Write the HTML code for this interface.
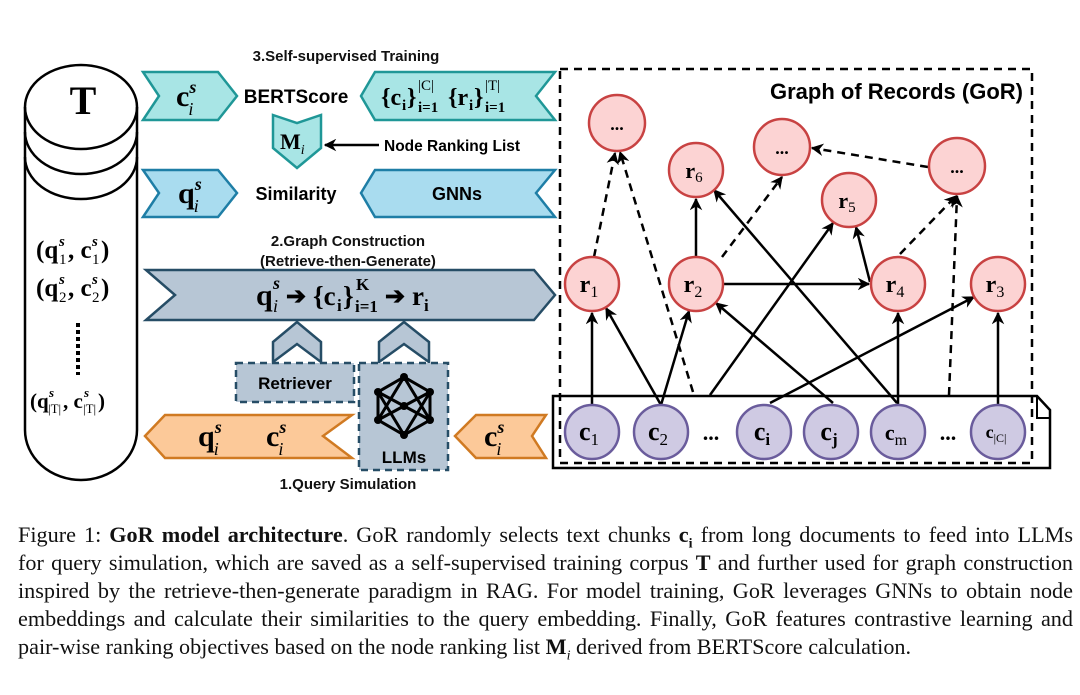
<!DOCTYPE html>
<html><head><meta charset="utf-8"><style>
html,body{margin:0;padding:0;background:#fff;}
.wrap{position:relative;width:1080px;height:695px;overflow:hidden;background:#fff;}
svg{position:absolute;left:0;top:0;}
.cap{position:absolute;left:18px;width:1055px;font-family:"Liberation Serif",serif;font-size:22.2px;line-height:28px;color:#111;white-space:nowrap;}
.j{text-align:justify;text-align-last:justify;}
.sans{font-family:"Liberation Sans",sans-serif;font-weight:bold;}
.ser{font-family:"Liberation Serif",serif;}
</style></head><body><div class="wrap">
<svg width="1080" height="695" viewBox="0 0 1080 695" xmlns="http://www.w3.org/2000/svg">
<defs>
<marker id="ah" viewBox="0 0 10 10" refX="9" refY="5" markerWidth="5" markerHeight="5" orient="auto-start-reverse" markerUnits="strokeWidth"><path d="M0,0 L10,5 L0,10 L3,5 Z" fill="#000"/></marker>
</defs>
<!-- cylinder -->
<g fill="none" stroke="#000" stroke-width="2.5">
<path d="M25,107 A56,42 0 0 1 137,107 V430 A56,50 0 0 1 25,430 Z" fill="#fff"/>
<path d="M25,107 A56,42 0 0 0 137,107"/>
<path d="M25,132 A56,42 0 0 0 137,132"/>
<path d="M25,157 A56,42 0 0 0 137,157"/>
</g>
<text x="83" y="114" text-anchor="middle" class="ser" font-size="40" font-weight="bold">T</text>
<g class="ser" font-size="25" font-weight="bold">
<text x="36" y="258">(q</text><text x="59" y="246" font-size="15" font-style="italic">s</text><text x="59" y="264" font-size="15" font-weight="normal">1</text><text x="68" y="258">, c</text><text x="92" y="246" font-size="15" font-style="italic">s</text><text x="92" y="264" font-size="15" font-weight="normal">1</text><text x="101" y="258">)</text>
<text x="36" y="296">(q</text><text x="59" y="284" font-size="15" font-style="italic">s</text><text x="59" y="302" font-size="15" font-weight="normal">2</text><text x="68" y="296">, c</text><text x="92" y="284" font-size="15" font-style="italic">s</text><text x="92" y="302" font-size="15" font-weight="normal">2</text><text x="101" y="296">)</text>
<text x="30" y="408" font-size="21">(q</text><text x="49" y="397" font-size="13" font-style="italic">s</text><text x="48" y="413" font-size="13" font-weight="normal">|T|</text><text x="63" y="408" font-size="21">, c</text><text x="84" y="397" font-size="13" font-style="italic">s</text><text x="83" y="413" font-size="13" font-weight="normal">|T|</text><text x="98" y="408" font-size="21">)</text>
</g>
<line x1="78" y1="323" x2="78" y2="375" stroke="#000" stroke-width="4" stroke-dasharray="4,3"/>

<!-- titles -->
<g class="sans" font-size="15" text-anchor="middle" fill="#111">
<text x="346" y="61">3.Self-supervised Training</text>
<text x="348" y="246">2.Graph Construction</text>
<text x="348" y="266">(Retrieve-then-Generate)</text>
<text x="348" y="489">1.Query Simulation</text>
</g>

<!-- teal row -->
<g stroke="#1f9797" stroke-width="2.5" fill="#a8e5e5">
<polygon points="143,72 218,72 237,96 218,120 143,120 159,96"/>
<polygon points="361,96 375,72 555,72 536,96 555,120 375,120"/>
<polygon points="273,115 297,123 321,115 321,148 297,168 273,148"/>
</g>
<text x="296" y="103" class="sans" font-size="19" text-anchor="middle">BERTScore</text>
<g class="ser" font-weight="bold">
<text x="176" y="106" font-size="30">c<tspan font-size="18" font-style="italic" dy="-13">s</tspan><tspan font-size="18" font-style="italic" font-weight="normal" dx="-8" dy="22">i</tspan></text>
<text x="280" y="149" font-size="22">M<tspan font-size="14" font-style="italic" font-weight="normal" dy="5">i</tspan></text>
<text x="381" y="105" font-size="24">{c</text><text x="402" y="110" font-size="15">i</text><text x="407" y="105" font-size="24">}</text>
<text x="418" y="90" font-size="15" font-weight="normal">|C|</text><text x="418" y="112" font-size="15">i=1</text>
<text x="448" y="105" font-size="24">{r</text><text x="469" y="110" font-size="15">i</text><text x="474" y="105" font-size="24">}</text>
<text x="485" y="90" font-size="15" font-weight="normal">|T|</text><text x="485" y="112" font-size="15">i=1</text>
</g>
<line x1="379" y1="145" x2="325" y2="145" stroke="#000" stroke-width="2.5" marker-end="url(#ah)"/>
<text x="384" y="151" class="sans" font-size="15.5">Node Ranking List</text>

<!-- blue row -->
<g stroke="#1e7ea6" stroke-width="2.5" fill="#a9dcef">
<polygon points="143,170 218,170 237,193 218,217 143,217 159,193"/>
<polygon points="361,193 375,170 555,170 536,193 555,217 375,217"/>
</g>
<text x="296" y="200" class="sans" font-size="18" text-anchor="middle">Similarity</text>
<text x="457" y="200" class="sans" font-size="18" text-anchor="middle">GNNs</text>
<text x="178" y="203" class="ser" font-weight="bold" font-size="30">q<tspan font-size="18" font-style="italic" dy="-13">s</tspan><tspan font-size="18" font-style="italic" font-weight="normal" dx="-8" dy="22">i</tspan></text>

<!-- grey -->
<g stroke="#264d66" stroke-width="2.5" fill="#b7c6d5">
<polygon points="146,270 534,270 555,295 534,320 146,320 175,295"/>
<polygon points="273,342 297,322 321,342 321,362 297,344 273,362"/>
<polygon points="379,342 404,322 429,342 429,362 404,344 379,362"/>
<rect x="236" y="363" width="118" height="39" stroke-dasharray="7,5"/>
<rect x="359" y="363" width="89" height="107" stroke-dasharray="7,5"/>
</g>
<g class="ser" font-weight="bold">
<text x="256" y="305" font-size="30">q</text><text x="273" y="289" font-size="18" font-style="italic">s</text><text x="273" y="312" font-size="18" font-style="italic" font-weight="normal">i</text>
<text x="286" y="304" font-size="24">➔</text>
<text x="313" y="305" font-size="27">{c</text><text x="337" y="311" font-size="17">i</text><text x="343" y="305" font-size="27">}</text>
<text x="356" y="290" font-size="17">K</text><text x="355" y="312" font-size="17">i=1</text>
<text x="385" y="304" font-size="24">➔</text>
<text x="412" y="305" font-size="27">r</text><text x="424" y="311" font-size="17">i</text>
</g>
<text x="295" y="389" class="sans" font-size="17" text-anchor="middle">Retriever</text>
<text x="404" y="463" class="sans" font-size="17" text-anchor="middle">LLMs</text>
<g stroke="#000" stroke-width="3" fill="none">
<path d="M404,377 L378,392 L378,420 L404,435 L430,420 L430,392 Z"/>
<path d="M404,377 L378,420 M404,377 L430,420 M404,435 L378,392 M404,435 L430,392 M378,392 L430,420 M430,392 L378,420"/>
</g>
<g fill="#000"><circle cx="404" cy="377" r="4"/><circle cx="378" cy="392" r="4"/><circle cx="430" cy="392" r="4"/><circle cx="378" cy="420" r="4"/><circle cx="430" cy="420" r="4"/><circle cx="404" cy="435" r="4"/><circle cx="404" cy="406" r="4"/></g>

<!-- orange -->
<g stroke="#d07a22" stroke-width="2.5" fill="#fcc999">
<polygon points="145,436 165,415 352,415 323,436 352,458 165,458"/>
<polygon points="455,436 476,415 546,415 532,436 546,458 476,458"/>
</g>
<g class="ser" font-weight="bold" font-size="30">
<text x="198" y="446">q<tspan font-size="18" font-style="italic" dy="-13">s</tspan><tspan font-size="18" font-style="italic" font-weight="normal" dx="-8" dy="22">i</tspan></text>
<text x="266" y="446">c<tspan font-size="18" font-style="italic" dy="-13">s</tspan><tspan font-size="18" font-style="italic" font-weight="normal" dx="-8" dy="22">i</tspan></text>
<text x="484" y="446">c<tspan font-size="18" font-style="italic" dy="-13">s</tspan><tspan font-size="18" font-style="italic" font-weight="normal" dx="-8" dy="22">i</tspan></text>
</g>

<!-- document box -->
<path d="M553,396 H1037 L1050,410 V468 H553 Z" fill="#fff" stroke="#000" stroke-width="2.5"/>
<path d="M1037,396 V418 H1050" fill="none" stroke="#000" stroke-width="2"/>
<rect x="560" y="69" width="472" height="394" fill="none" stroke="#000" stroke-width="2.5" stroke-dasharray="8,6"/>
<text x="1023" y="99" class="sans" font-size="22" text-anchor="end">Graph of Records (GoR)</text>

<!-- edges -->
<g stroke="#000" stroke-width="2.5" fill="none" marker-end="url(#ah)">
<line x1="592" y1="405" x2="592" y2="313"/>
<line x1="661" y1="405" x2="606" y2="308"/>
<line x1="661" y1="405" x2="689" y2="311"/>
<line x1="710" y1="395" x2="833" y2="223"/>
<line x1="833" y1="403" x2="716" y2="303"/>
<line x1="897" y1="403" x2="714" y2="190"/>
<line x1="898" y1="405" x2="898" y2="313"/>
<line x1="770" y1="403" x2="974" y2="297"/>
<line x1="998" y1="405" x2="998" y2="313"/>
<line x1="723" y1="284" x2="869" y2="284"/>
<line x1="696" y1="257" x2="696" y2="199"/>
<line x1="870" y1="282" x2="856" y2="227"/>
</g>
<g stroke="#000" stroke-width="2.5" fill="none" stroke-dasharray="8,6" marker-end="url(#ah)">
<line x1="693" y1="392" x2="620" y2="152"/>
<line x1="594" y1="257" x2="615" y2="153"/>
<line x1="722" y1="257" x2="782" y2="177"/>
<line x1="900" y1="254" x2="956" y2="196"/>
<line x1="949" y1="395" x2="957" y2="196"/>
<line x1="928" y1="167" x2="812" y2="148"/>
</g>

<!-- r nodes -->
<g stroke="#c84242" stroke-width="2.5" fill="#fcd3d3">
<circle cx="617" cy="123" r="28"/><circle cx="782" cy="147" r="28"/><circle cx="957" cy="166" r="28"/>
<circle cx="696" cy="170" r="27"/><circle cx="849" cy="200" r="27"/>
<circle cx="592" cy="284" r="27"/><circle cx="696" cy="284" r="27"/><circle cx="898" cy="284" r="27"/><circle cx="998" cy="284" r="27"/>
</g>
<g class="ser" font-weight="bold" font-size="24" text-anchor="middle">
<text x="617" y="130" font-size="18">...</text><text x="782" y="154" font-size="18">...</text><text x="957" y="173" font-size="18">...</text>
<text x="694" y="178" font-size="22">r<tspan font-size="15" font-weight="normal" dy="4">6</tspan></text>
<text x="847" y="208" font-size="22">r<tspan font-size="15" font-weight="normal" dy="4">5</tspan></text>
<text x="589" y="292">r<tspan font-size="16" font-weight="normal" dy="5">1</tspan></text>
<text x="693" y="292">r<tspan font-size="16" font-weight="normal" dy="5">2</tspan></text>
<text x="895" y="292">r<tspan font-size="16" font-weight="normal" dy="5">4</tspan></text>
<text x="995" y="292">r<tspan font-size="16" font-weight="normal" dy="5">3</tspan></text>
</g>

<!-- c nodes -->
<g stroke="#6a5c9c" stroke-width="2.5" fill="#cfcae3">
<circle cx="592" cy="432" r="27"/><circle cx="661" cy="432" r="27"/><circle cx="764" cy="432" r="27"/><circle cx="831" cy="432" r="27"/><circle cx="898" cy="432" r="27"/><circle cx="998" cy="432" r="27"/>
</g>
<g class="ser" font-weight="bold" font-size="26" text-anchor="middle">
<text x="589" y="440">c<tspan font-size="17" font-weight="normal" dy="5">1</tspan></text>
<text x="658" y="440">c<tspan font-size="17" font-weight="normal" dy="5">2</tspan></text>
<text x="762" y="440">c<tspan font-size="17" dy="5">i</tspan></text>
<text x="829" y="440">c<tspan font-size="17" dy="5">j</tspan></text>
<text x="896" y="440" font-size="22">c<tspan font-size="16" font-weight="normal" dy="5">m</tspan></text>
<text x="996" y="438" font-size="18">c<tspan font-size="12" font-weight="normal" dy="4">|C|</tspan></text>
<text x="711" y="440" font-size="22">...</text>
<text x="948" y="440" font-size="22">...</text>
</g>
</svg>
<div class="cap j" style="top:521px">Figure 1: <b>GoR model architecture</b>. GoR randomly selects text chunks <b>c<sub style="font-size:14px">i</sub></b> from long documents to feed into LLMs</div>
<div class="cap j" style="top:549px">for query simulation, which are saved as a self-supervised training corpus <b>T</b> and further used for graph construction</div>
<div class="cap j" style="top:577px">inspired by the retrieve-then-generate paradigm in RAG. For model training, GoR leverages GNNs to obtain node</div>
<div class="cap j" style="top:605px">embeddings and calculate their similarities to the query embedding. Finally, GoR features contrastive learning and</div>
<div class="cap" style="top:633px">pair-wise ranking objectives based on the node ranking list <b>M</b><sub style="font-size:14px"><i>i</i></sub> derived from BERTScore calculation.</div>
</div></body></html>
